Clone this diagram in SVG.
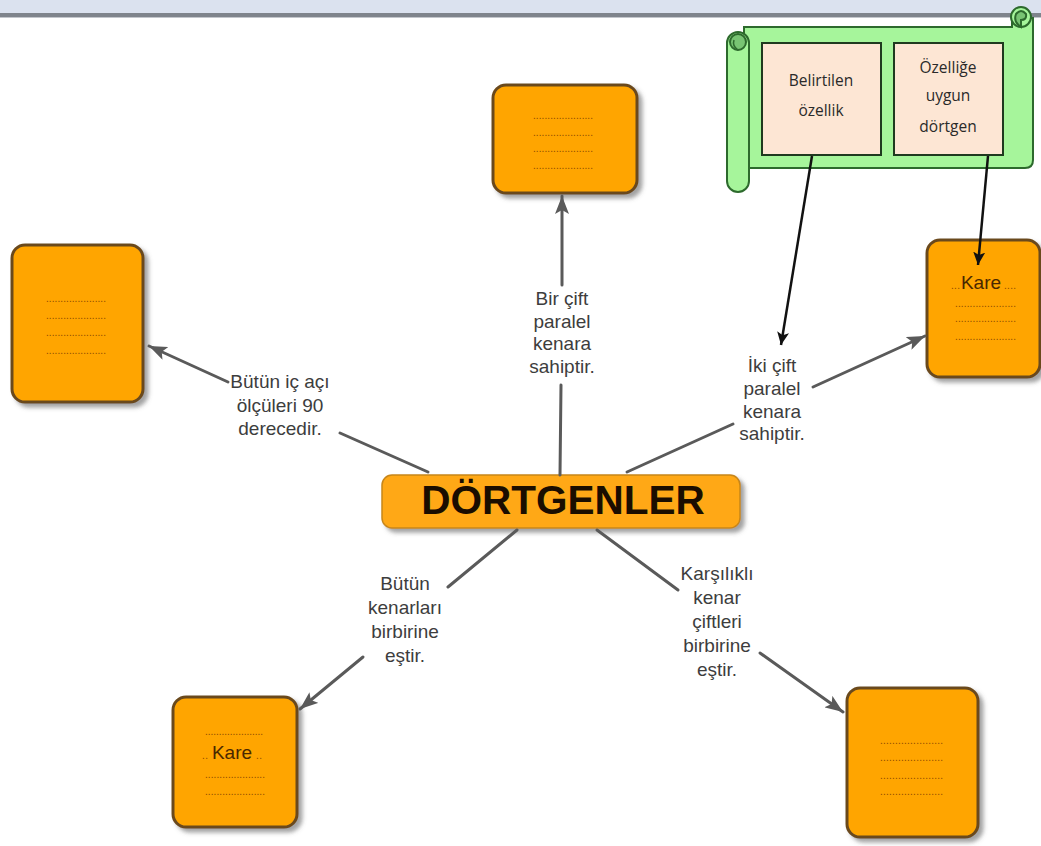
<svg xmlns="http://www.w3.org/2000/svg" width="1041" height="846" viewBox="0 0 1041 846">
  <defs>
    <style>
      .box { fill: #ffa500; stroke: #6b4a1f; stroke-width: 3; }
      .hub { fill: #ffa812; stroke: #c7861a; stroke-width: 1.5; }
      .link { stroke: #5a5a5a; stroke-width: 3; fill: none; stroke-linecap: round; }
      .ptr { stroke: #111111; stroke-width: 2.5; fill: none; }
      .lbl { font-family: "Liberation Sans", Arial, sans-serif; font-size: 19px; fill: #3d3d3d; text-anchor: middle; }
      .dots { font-family: "Liberation Sans", Arial, sans-serif; font-size: 10px; fill: #8a4a00; }
      .kare { font-family: "Liberation Sans", Arial, sans-serif; font-size: 19px; fill: #4a2800; text-anchor: middle; }
      .title { font-family: "Liberation Sans", Arial, sans-serif; font-size: 40.5px; font-weight: bold; fill: #1a0d00; text-anchor: middle; }
      .scroll { fill: #a6f59b; stroke: #2d6a2d; stroke-width: 2; }
      .curl { fill: #78c473; stroke: #2d6a2d; stroke-width: 2; }
      .card { fill: #fde6d4; stroke: #1f3a1f; stroke-width: 2; }
      .cardtxt { font-family: "Open Sans", "Noto Sans", sans-serif; font-size: 15.5px; fill: #2a2a2a; text-anchor: middle; }
    </style>
    <filter id="shadow" x="-10%" y="-10%" width="130%" height="130%">
      <feDropShadow dx="4" dy="4" stdDeviation="2" flood-color="#555555" flood-opacity="0.55"/>
    </filter>
    <marker id="grayHead" markerUnits="userSpaceOnUse" markerWidth="20" markerHeight="14" refX="18" refY="7" orient="auto">
      <path d="M0,0 L18,7 L0,14 L4,7 z" fill="#5a5a5a"/>
    </marker>
    <marker id="blackHead" markerUnits="userSpaceOnUse" markerWidth="14" markerHeight="12" refX="13" refY="6" orient="auto">
      <path d="M0,0 L13,6 L0,12 L3,6 z" fill="#111111"/>
    </marker>
  </defs>

  <!-- window header band -->
  <rect x="0" y="0" width="1041" height="13" fill="#dbe2ef"/>
  <rect x="0" y="13" width="1041" height="4" fill="#7f848c"/>
  <rect x="0" y="17" width="1041" height="1" fill="#c3c6cc"/>
  <rect x="0" y="18" width="1041" height="828" fill="#ffffff"/>

  <!-- connector labels -->
  <g id="label-up">
    <text class="lbl" x="562" y="305">Bir çift</text>
    <text class="lbl" x="562" y="327.5">paralel</text>
    <text class="lbl" x="562" y="350">kenara</text>
    <text class="lbl" x="562" y="372.5">sahiptir.</text>
  </g>
  <g id="label-left">
    <text class="lbl" x="280" y="388">Bütün iç açı</text>
    <text class="lbl" x="280" y="411.5">ölçüleri 90</text>
    <text class="lbl" x="280" y="435">derecedir.</text>
  </g>
  <g id="label-right">
    <text class="lbl" x="772" y="372">İki çift</text>
    <text class="lbl" x="772" y="395">paralel</text>
    <text class="lbl" x="772" y="417.5">kenara</text>
    <text class="lbl" x="772" y="440">sahiptir.</text>
  </g>
  <g id="label-lowleft">
    <text class="lbl" x="405" y="590">Bütün</text>
    <text class="lbl" x="405" y="614">kenarları</text>
    <text class="lbl" x="405" y="638">birbirine</text>
    <text class="lbl" x="405" y="662">eştir.</text>
  </g>
  <g id="label-lowright">
    <text class="lbl" x="717" y="580">Karşılıklı</text>
    <text class="lbl" x="717" y="604">kenar</text>
    <text class="lbl" x="717" y="628">çiftleri</text>
    <text class="lbl" x="717" y="652">birbirine</text>
    <text class="lbl" x="717" y="676">eştir.</text>
  </g>

  <!-- central node -->
  <g id="hub">
    <rect class="hub" x="382" y="475" width="358" height="53" rx="10" filter="url(#shadow)"/>
    <text class="title" x="563" y="514">DÖRTGENLER</text>
  </g>

  <!-- top node -->
  <g id="node-top">
    <rect class="box" x="493" y="85" width="144" height="108" rx="13" filter="url(#shadow)"/>
    <text class="dots" x="533" y="119" textLength="60" lengthAdjust="spacing">.....................</text>
    <text class="dots" x="533" y="136" textLength="60" lengthAdjust="spacing">.....................</text>
    <text class="dots" x="533" y="152" textLength="60" lengthAdjust="spacing">.....................</text>
    <text class="dots" x="533" y="169" textLength="60" lengthAdjust="spacing">.....................</text>
  </g>

  <!-- left node -->
  <g id="node-left">
    <rect class="box" x="12" y="245" width="131" height="157" rx="13" filter="url(#shadow)"/>
    <text class="dots" x="46" y="302" textLength="60" lengthAdjust="spacing">.....................</text>
    <text class="dots" x="46" y="319" textLength="60" lengthAdjust="spacing">.....................</text>
    <text class="dots" x="46" y="336" textLength="60" lengthAdjust="spacing">.....................</text>
    <text class="dots" x="46" y="354" textLength="60" lengthAdjust="spacing">.....................</text>
  </g>

  <!-- right node -->
  <g id="node-right">
    <rect class="box" x="927" y="240" width="113" height="137" rx="13" filter="url(#shadow)"/>
    <text class="dots" x="951" y="289" textLength="9" lengthAdjust="spacing">...</text>
    <text class="kare" x="981" y="289">Kare</text>
    <text class="dots" x="1004" y="289" textLength="12" lengthAdjust="spacing">....</text>
    <text class="dots" x="955" y="307" textLength="61" lengthAdjust="spacing">.....................</text>
    <text class="dots" x="955" y="322" textLength="61" lengthAdjust="spacing">.....................</text>
    <text class="dots" x="955" y="340" textLength="61" lengthAdjust="spacing">.....................</text>
  </g>

  <!-- lower left node -->
  <g id="node-lowleft">
    <rect class="box" x="173" y="697" width="124" height="130" rx="13" filter="url(#shadow)"/>
    <text class="dots" x="205" y="735" textLength="58" lengthAdjust="spacing">.....................</text>
    <text class="dots" x="202" y="759" textLength="6" lengthAdjust="spacing">..</text>
    <text class="kare" x="232" y="759">Kare</text>
    <text class="dots" x="256" y="759" textLength="6" lengthAdjust="spacing">..</text>
    <text class="dots" x="205" y="778" textLength="60" lengthAdjust="spacing">.....................</text>
    <text class="dots" x="205" y="795" textLength="60" lengthAdjust="spacing">.....................</text>
  </g>

  <!-- lower right node -->
  <g id="node-lowright">
    <rect class="box" x="847" y="688" width="131" height="149" rx="13" filter="url(#shadow)"/>
    <text class="dots" x="880" y="744" textLength="63" lengthAdjust="spacing">.....................</text>
    <text class="dots" x="880" y="761" textLength="63" lengthAdjust="spacing">.....................</text>
    <text class="dots" x="880" y="779" textLength="63" lengthAdjust="spacing">.....................</text>
    <text class="dots" x="880" y="795" textLength="63" lengthAdjust="spacing">.....................</text>
  </g>

  <!-- legend scroll -->
  <g id="legend">
    <path class="scroll" d="M744,27 H1012 V18 H1033 V160 Q1033,168 1025,168 H744 Z"/>
    <circle class="scroll" cx="1021" cy="17" r="10"/>
    <path class="curl" d="M1021,27 Q1013,22 1016,14 Q1021,8 1026,14 Q1027,20 1021,20 Z"/>
    <rect class="scroll" x="727" y="32" width="22" height="160" rx="11"/>
    <circle class="curl" cx="738" cy="42" r="8"/>
    <path d="M738,50 Q732,46 734,40" fill="none" stroke="#2d6a2d" stroke-width="1.5"/>
    <rect class="card" x="762" y="43" width="119" height="112"/>
    <rect class="card" x="894" y="43" width="109" height="112"/>
    <text class="cardtxt" x="821" y="86">Belirtilen</text>
    <text class="cardtxt" x="821" y="116">özellik</text>
    <text class="cardtxt" x="948" y="73">Özelliğe</text>
    <text class="cardtxt" x="948" y="101">uygun</text>
    <text class="cardtxt" x="948" y="132">dörtgen</text>
  </g>

  <!-- connectors, drawn last so the legend pointers sit over the nodes -->
  <g id="connectors">
    <line class="link" x1="560" y1="475" x2="561" y2="385"/>
    <line class="link" x1="562" y1="285" x2="562" y2="196" marker-end="url(#grayHead)"/>
    <line class="link" x1="428" y1="472" x2="340" y2="433"/>
    <line class="link" x1="228" y1="382" x2="149" y2="346" marker-end="url(#grayHead)"/>
    <line class="link" x1="627" y1="472" x2="733" y2="424"/>
    <line class="link" x1="813" y1="387" x2="925" y2="336" marker-end="url(#grayHead)"/>
    <line class="link" x1="517" y1="530" x2="448" y2="587"/>
    <line class="link" x1="363" y1="657" x2="300" y2="709" marker-end="url(#grayHead)"/>
    <line class="link" x1="597" y1="530" x2="678" y2="590"/>
    <line class="link" x1="760" y1="653" x2="843" y2="712" marker-end="url(#grayHead)"/>
    <line class="ptr" x1="812" y1="156" x2="781" y2="345" marker-end="url(#blackHead)"/>
    <line class="ptr" x1="988" y1="156" x2="978" y2="265" marker-end="url(#blackHead)"/>
  </g>
</svg>
